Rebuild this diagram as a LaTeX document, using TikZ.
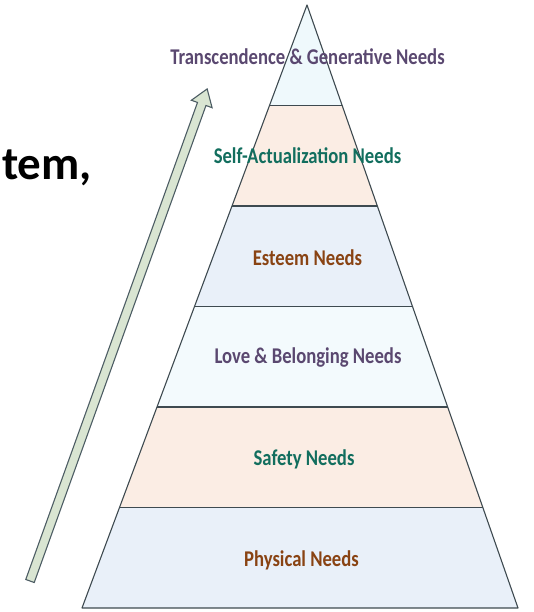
\documentclass[tikz,border=0pt]{standalone}
\usepackage{fontspec}
\setmainfont{Carlito}
\usetikzlibrary{calc}
\definecolor{edge}{HTML}{3E4A50}
\definecolor{lyrA}{HTML}{EFF9FC}
\definecolor{lyrB}{HTML}{FBEDE4}
\definecolor{lyrC}{HTML}{E9F0F9}
\definecolor{lyrD}{HTML}{F3FAFD}
\definecolor{txtP}{HTML}{5A4870}
\definecolor{txtT}{HTML}{126E5E}
\definecolor{txtB}{HTML}{894313}
\definecolor{arrfill}{HTML}{D9E5D2}
\definecolor{arredge}{HTML}{4D5D64}
\tikzset{
  lbl/.style={font=\fontsize{22.5}{24}\selectfont\bfseries, inner sep=0pt, xscale=0.83},
  edgeline/.style={draw=edge, line width=1.1pt, line join=round},
}
\begin{document}
\begin{tikzpicture}[x=1pt,y=1pt]
\useasboundingbox (0,0) rectangle (534,612);
\coordinate (A) at (307,607);
\coordinate (BL) at (82,4);
\coordinate (BR) at (518,4);
% layers
\foreach \k/\c in {0/lyrA,1/lyrB,2/lyrC,3/lyrD,4/lyrB,5/lyrC}{
  \pgfmathsetmacro{\ta}{\k/6}
  \pgfmathsetmacro{\tb}{(\k+1)/6}
  \fill[\c] ($(A)!\ta!(BL)$) -- ($(A)!\tb!(BL)$) -- ($(A)!\tb!(BR)$) -- ($(A)!\ta!(BR)$) -- cycle;
}
\foreach \k in {1,...,5}{
  \pgfmathsetmacro{\ta}{\k/6}
  \draw[edgeline] ($(A)!\ta!(BL)$) -- ($(A)!\ta!(BR)$);
}
\draw[edgeline] (A) -- (BL) -- (BR) -- cycle;
% labels
\node[lbl, text=txtP] (l1) at (307.5,555) {Transcendence \& Generative Needs};
\node[lbl, text=txtT] (l2) at (307.5,456) {Self-Actualization Needs};
\node[lbl, text=txtB] (l3) at (307.5,354) {Esteem Needs};
\node[lbl, text=txtP] (l4) at (308,254) {Love \& Belonging Needs};
\node[lbl, text=txtT] (l5) at (304,153) {Safety Needs};
\node[lbl, text=txtB] (l6) at (301.5,52) {Physical Needs};
% partial title
\node[font=\fontsize{47}{50}\selectfont\bfseries, anchor=base east, inner sep=0pt] (tt) at (92,432) {tem,};
% block arrow
\begin{scope}[shift={(30,31)}, rotate=70.2]
  \draw[fill=arrfill, draw=arredge, line width=1.1pt, line join=miter]
    (0,-4.5) -- (507,-4.5) -- (507,-11) -- (523,0) -- (507,11) -- (507,4.5) -- (0,4.5) -- cycle;
\end{scope}
\end{tikzpicture}
\end{document}
